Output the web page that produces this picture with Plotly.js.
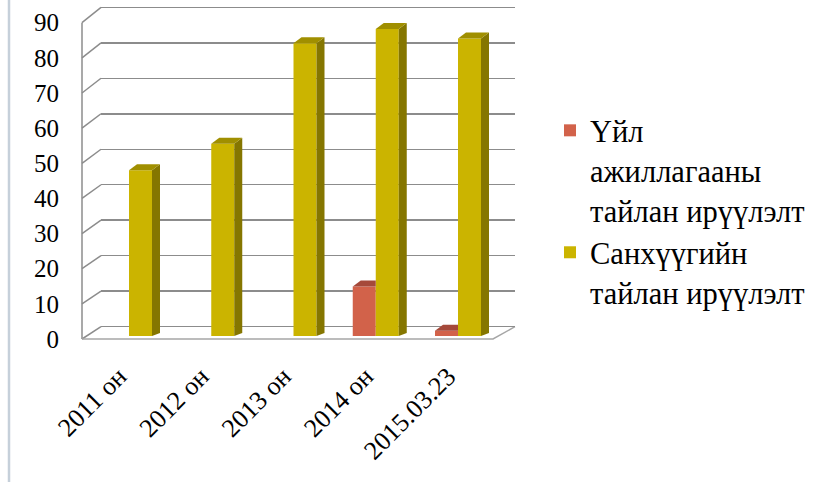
<!DOCTYPE html>
<html>
<head>
<meta charset="utf-8">
<script src="https://cdn.plot.ly/plotly-3.0.1.min.js"></script>
<style>html,body{margin:0;padding:0;background:#fff;}#chart{width:820px;height:482px;}</style>
</head>
<body>
<div id="chart"></div>
<script>
// ---- data ----
const categories = ['2011 он', '2012 он', '2013 он', '2014 он', '2015.03.23'];
const seriesNames = ['Үйл<br>ажиллагааны<br>тайлан ирүүлэлт', 'Санхүүгийн<br>тайлан ирүүлэлт'];
const activityReport = [0, 0, 0, 14, 1.5];
const financeReport = [47, 54.5, 83, 87, 84.3];
const yTicks = [0, 10, 20, 30, 40, 50, 60, 70, 80, 90];

// ---- geometry (pixels) ----
const W = 820, H = 482;
const fx = p => p / W, fy = p => 1 - p / H;
const FRONT_LEFT = 82, BACK_LEFT = 101, RIGHT = 515, FRONT_RIGHT = 493;
const BACK_0 = 326.7, BACK_90 = 7.3;      // back wall scale
const FRONT_0 = 339, FRONT_90 = 22.7;     // front edge scale
const BAR_0 = 336, BAR_90 = 18.5;         // bar plane scale
const CAT0 = 129, CAT_STEP = 82.25;
const xr0 = (FRONT_LEFT - CAT0) / CAT_STEP, xr1 = (RIGHT - CAT0) / CAT_STEP;
const BAR_W = 23 / CAT_STEP;
const DX = 8 / CAT_STEP;                   // depth offset in x units
const DY = 6 * 90 / (BAR_0 - BAR_90);      // depth offset in y units
const backUnit = (BACK_0 - BACK_90) / 90;  // px per unit on the back wall
const frontPx = v => FRONT_0 - v * (FRONT_0 - FRONT_90) / 90;
const backPx = v => BACK_0 - v * backUnit;

const COL_RED = '#d2624a', COL_RED_TOP = '#a5493a';
const COL_YEL = '#cbb400', COL_YEL_SIDE = '#857600', COL_YEL_TOP = '#a08f00';
const GRID = '#8c8c8c';
const FONT = 'Liberation Serif';

const traces = [
  {type: 'scatter', x: [], y: [], xaxis: 'x', yaxis: 'y', showlegend: false, hoverinfo: 'skip'},
  {type: 'bar', name: seriesNames[0], legendgroup: 'g1', x: categories, y: activityReport, xaxis: 'x2', yaxis: 'y2',
   marker: {color: COL_RED}},
  {type: 'bar', name: seriesNames[1], legendgroup: 'g2', x: categories, y: financeReport, xaxis: 'x2', yaxis: 'y2',
   marker: {color: COL_YEL}},
  {type: 'scatter', x: [], y: [], xaxis: 'x3', yaxis: 'y3', showlegend: false, hoverinfo: 'skip'}
];

const shapes = [];
const P = (x, y) => `${fx(x)},${fy(y)}`;
shapes.push({type: 'path', xref: 'paper', yref: 'paper', layer: 'below',
  path: `M ${P(FRONT_LEFT, frontPx(0))} L ${P(FRONT_LEFT, frontPx(90))}`,
  line: {color: GRID, width: 1.5}});
yTicks.forEach(v => {
  shapes.push({type: 'path', xref: 'paper', yref: 'paper', layer: 'below',
    path: `M ${P(FRONT_LEFT, frontPx(v))} L ${P(BACK_LEFT, backPx(v))}`,
    line: {color: GRID, width: 1.5}});
});
shapes.push({type: 'path', xref: 'paper', yref: 'paper', layer: 'below',
  path: `M ${P(FRONT_LEFT, frontPx(0))} L ${P(FRONT_RIGHT, frontPx(0))} L ${P(RIGHT, backPx(0))}`,
  line: {color: '#a6a6a6', width: 1.5}});
categories.forEach((c, i) => {
  const v = financeReport[i];
  const l = i, r = i + BAR_W;
  shapes.push({type: 'path', xref: 'x2', yref: 'y2', layer: 'above',
    path: `M ${r},0 L ${r + DX},${DY * 0.5} L ${r + DX},${v + DY} L ${r},${v} Z`,
    fillcolor: COL_YEL_SIDE, line: {width: 0}});
  shapes.push({type: 'path', xref: 'x2', yref: 'y2', layer: 'above',
    path: `M ${l},${v} L ${l + DX},${v + DY} L ${r + DX},${v + DY} L ${r},${v} Z`,
    fillcolor: COL_YEL_TOP, line: {width: 0}});
  const a = activityReport[i];
  if (a > 0) {
    shapes.push({type: 'path', xref: 'x2', yref: 'y2', layer: 'above',
      path: `M ${l - BAR_W},${a} L ${l - BAR_W + DX},${a + DY} L ${l},${a + DY} L ${l},${a} Z`,
      fillcolor: COL_RED_TOP, line: {width: 0}});
  }
});
shapes.push({type: 'line', xref: 'paper', yref: 'paper', x0: fx(9), x1: fx(9), y0: 0, y1: 1,
  line: {color: '#c6d0da', width: 2.5}});

const PAD = 1;
const layout = {
  width: W, height: H,
  margin: {l: 0, r: 0, t: 0, b: 0},
  paper_bgcolor: '#ffffff', plot_bgcolor: 'rgba(0,0,0,0)',
  font: {family: FONT, color: '#000000'},
  barmode: 'group', bargap: 1 - 2 * BAR_W, bargroupgap: 0,
  showlegend: true,
  legend: {x: fx(550), y: fy(104), xanchor: 'left', yanchor: 'top', valign: 'top',
           traceorder: 'grouped', tracegroupgap: 0,
           font: {family: FONT, size: 30.5, color: '#000'}, bgcolor: 'rgba(0,0,0,0)'},
  xaxis: {domain: [fx(BACK_LEFT), fx(RIGHT)], range: [0, 1], visible: false, anchor: 'y', fixedrange: true},
  yaxis: {domain: [fy(BACK_0 + PAD * backUnit), fy(BACK_90 - PAD * backUnit)], range: [-PAD, 90 + PAD],
          tickvals: yTicks, showgrid: true,
          gridcolor: GRID, gridwidth: 1.5, showticklabels: false, zeroline: false, showline: false,
          ticks: '', anchor: 'x', fixedrange: true},
  xaxis2: {domain: [fx(FRONT_LEFT), fx(RIGHT)], range: [xr0, xr1], type: 'category', anchor: 'y2',
           showgrid: false, showline: false, zeroline: false, ticks: '', tickangle: -45,
           tickfont: {family: FONT, size: 26, color: '#000'}, ticklabelstandoff: 19, ticklabelshift: -10,
           fixedrange: true},
  yaxis2: {domain: [fy(BAR_0), fy(BAR_90)], range: [0, 90], visible: false, anchor: 'x2', fixedrange: true},
  xaxis3: {domain: [fx(FRONT_LEFT), fx(RIGHT)], range: [0, 1], visible: false, anchor: 'y3', fixedrange: true},
  yaxis3: {domain: [fy(FRONT_0), fy(FRONT_90)], range: [0, 90], tickvals: yTicks, ticktext: yTicks.map(String),
           showgrid: false, zeroline: false, showline: false, ticks: '', anchor: 'x3',
           tickfont: {family: FONT, size: 25, color: '#000'}, ticklabelstandoff: 22, fixedrange: true},
  shapes: shapes
};

Plotly.newPlot('chart', traces, layout, {displayModeBar: false, staticPlot: true});
</script>
</body>
</html>
